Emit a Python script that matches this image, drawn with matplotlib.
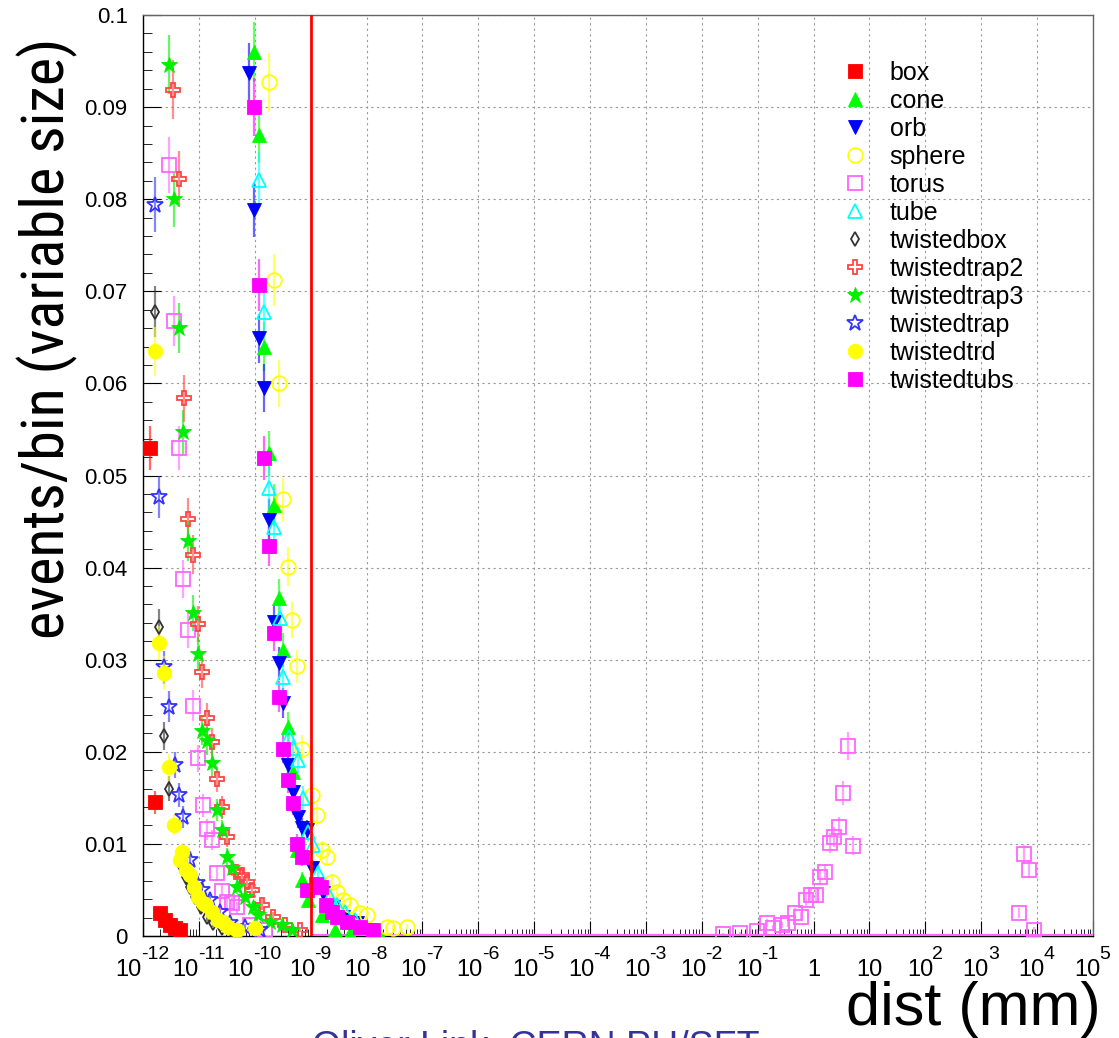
import numpy as np
import matplotlib.pyplot as plt
from matplotlib import font_manager as fm
from matplotlib.font_manager import FontProperties
from matplotlib.transforms import blended_transform_factory
from matplotlib.ticker import FixedLocator, FixedFormatter, LogLocator, NullFormatter, MultipleLocator

SANS = ['Liberation Sans', 'DejaVu Sans']


def narrow_font():
    # look for an installed condensed sans for the y title
    prefs = ['Liberation Sans Narrow', 'Roboto Condensed', 'Noto Sans', 'Open Sans',
             'DejaVu Sans', 'Noto Sans Display']
    found = {}
    for f in fm.fontManager.ttflist:
        cond = ('Narrow' in f.name or 'Condensed' in f.name or 'Cond' in f.fname
                or str(f.stretch) in ('condensed', 'semi-condensed', 'extra-condensed'))
        if not cond or f.style != 'normal':
            continue
        if str(f.weight) not in ('400', 'normal', 'regular', 'book'):
            continue
        if 'Semi' in f.fname or 'Extra' in f.fname or 'Ultra' in f.fname:
            continue
        found.setdefault(f.name, f.fname)
    for p in prefs:
        for name, path in found.items():
            if name.startswith(p):
                return path
    if found:
        return sorted(found.values())[0]
    return None


NARROW_PATH = narrow_font()


def nprop(size):
    if NARROW_PATH:
        return FontProperties(fname=NARROW_PATH, size=size)
    return FontProperties(family='DejaVu Sans', size=size * 0.85)


def sprop(size):
    return FontProperties(family=SANS, size=size)


# data: log10(dist / mm) and events/bin
box_lx = [-11.875, -11.785, -11.696, -11.606, -11.517, -11.428, -11.338]
box_y = [0.0530, 0.0145, 0.0025, 0.0017, 0.0012, 0.0009, 0.0006]

cone_lx = [-10.014, -9.925, -9.835, -9.746, -9.657, -9.567, -9.496, -9.406, -9.317,
           -9.245, -9.156, -9.048, -8.798, -8.565, -8.297, -7.76]
cone_y = [0.0960, 0.0870, 0.0640, 0.0524, 0.0468, 0.0367, 0.0311, 0.0227, 0.0178,
          0.0093, 0.0061, 0.0039, 0.0023, 0.0007, 0.0003, 0.0001]

orb_lx = [-10.104, -10.014, -9.925, -9.835, -9.746, -9.657, -9.567, -9.496, -9.406, -9.317,
          -9.227, -9.156, -9.066, -8.977, -8.887, -8.78, -8.601, -8.422, -8.172, -7.939]
orb_y = [0.0937, 0.0788, 0.0649, 0.0595, 0.0452, 0.0341, 0.0296, 0.0253, 0.0186, 0.0156,
         0.0129, 0.0117, 0.0115, 0.0074, 0.0055, 0.0047, 0.0031, 0.0021, 0.0014, 0.0007]

sphere_lx = [-9.746, -9.657, -9.567, -9.496, -9.406, -9.335, -9.245, -9.156, -8.977, -8.887,
             -8.798, -8.708, -8.619, -8.53, -8.422, -8.297, -8.118, -7.993, -7.635, -7.528, -7.277]
sphere_y = [0.0927, 0.0712, 0.0600, 0.0474, 0.0401, 0.0343, 0.0293, 0.0203, 0.0153, 0.0131,
            0.0093, 0.0086, 0.0059, 0.0048, 0.0039, 0.0034, 0.0025, 0.0023, 0.0010, 0.0009, 0.0010]

torus_lx = [-11.535, -11.445, -11.356, -11.284, -11.195, -11.106, -11.016, -10.927, -10.855,
            -10.766, -10.676, -10.587, -10.497, -10.408, -10.318, -10.086, -9.818,
            -1.624, -1.32, -1.016, -0.837, -0.73, -0.569, -0.462, -0.336, -0.229, -0.14,
            -0.05, 0.039, 0.111, 0.2, 0.29, 0.361, 0.451, 0.522, 0.612, 0.701,
            3.671, 3.76, 3.85, 3.94]
torus_y = [0.0837, 0.0668, 0.0530, 0.0388, 0.0332, 0.0250, 0.0193, 0.0142, 0.0116,
           0.0104, 0.0068, 0.0049, 0.0037, 0.0036, 0.0031, 0.0012, 0.0007,
           0.0002, 0.0003, 0.0005, 0.0014, 0.0009, 0.0012, 0.0014, 0.0025, 0.0021, 0.0039,
           0.0045, 0.0045, 0.0064, 0.0069, 0.0101, 0.0107, 0.0118, 0.0155, 0.0206, 0.0098,
           0.0025, 0.0089, 0.0072, 0.0007]

tube_lx = [-10.014, -9.925, -9.835, -9.746, -9.657, -9.549, -9.496, -9.388, -9.317, -9.227,
           -9.138, -9.048, -8.959, -8.869, -8.78, -8.655, -8.53, -8.386, -8.21]
tube_y = [0.1040, 0.0821, 0.0678, 0.0486, 0.0444, 0.0345, 0.0281, 0.0216, 0.0204, 0.0191,
          0.0150, 0.0113, 0.0099, 0.0068, 0.0055, 0.0042, 0.0034, 0.0026, 0.0017]

twistedbox_lx = [-11.785, -11.714, -11.624, -11.535, -11.32, -11.231, -11.159, -11.07,
                 -10.963, -10.855, -10.75, -10.587, -10.41]
twistedbox_y = [0.0678, 0.0336, 0.0217, 0.0160, 0.0077, 0.0064, 0.0053, 0.0042,
                0.0031, 0.0021, 0.0014, 0.0009, 0.0005]

twistedtrap2_lx = [-11.463, -11.356, -11.267, -11.195, -11.106, -11.016, -10.945, -10.855,
                   -10.766, -10.676, -10.587, -10.497, -10.336, -10.229, -10.14, -10.05,
                   -9.871, -9.674, -9.46, -9.19]
twistedtrap2_y = [0.0919, 0.0822, 0.0584, 0.0453, 0.0414, 0.0339, 0.0287, 0.0237,
                  0.0211, 0.0170, 0.0140, 0.0107, 0.0069, 0.0066, 0.0059, 0.0050,
                  0.0034, 0.0021, 0.0012, 0.0007]

twistedtrap3_lx = [-11.535, -11.445, -11.356, -11.284, -11.195, -11.106, -11.016, -10.945,
                   -10.855, -10.766, -10.676, -10.587, -10.497, -10.408, -10.318, -10.175,
                   -10.032, -9.943, -9.728, -9.513, -9.335]
twistedtrap3_y = [0.0946, 0.0800, 0.0660, 0.0547, 0.0429, 0.0351, 0.0306, 0.0223,
                  0.0212, 0.0188, 0.0137, 0.0115, 0.0086, 0.0074, 0.0053, 0.0042,
                  0.0031, 0.0023, 0.0015, 0.0012, 0.0007]

twistedtrap_lx = [-11.785, -11.714, -11.624, -11.535, -11.428, -11.356, -11.284, -11.159,
                  -11.034, -10.945, -10.801, -10.623, -10.444, -10.175, -9.907]
twistedtrap_y = [0.0794, 0.0477, 0.0292, 0.0249, 0.0186, 0.0153, 0.0129, 0.0083,
                 0.0058, 0.0050, 0.0039, 0.0026, 0.0014, 0.0010, 0.0007]

twistedtrd_lx = [-11.785, -11.714, -11.624, -11.535, -11.445, -11.338, -11.302, -11.231,
                 -11.159, -11.088, -11.016, -10.927, -10.873, -10.766, -10.658, -10.569,
                 -10.479, -10.318, -9.996]
twistedtrd_y = [0.0635, 0.0318, 0.0286, 0.0183, 0.0121, 0.0083, 0.0091, 0.0072,
                0.0066, 0.0053, 0.0042, 0.0036, 0.0034, 0.0026, 0.0017, 0.0015,
                0.0010, 0.0007, 0.0009]

twistedtubs_lx = [-10.014, -9.925, -9.835, -9.746, -9.657, -9.567, -9.496, -9.406, -9.317,
                  -9.245, -9.156, -9.066, -8.905, -8.816, -8.726, -8.619, -8.53, -8.351,
                  -8.118, -7.886]
twistedtubs_y = [0.0900, 0.0707, 0.0519, 0.0423, 0.0329, 0.0260, 0.0203, 0.0169, 0.0144,
                 0.0100, 0.0086, 0.0050, 0.0056, 0.0053, 0.0034, 0.0026, 0.0021, 0.0015,
                 0.0010, 0.0007]

cut_value = 1e-9
xtick_exp = list(range(-12, 6))
ytick_vals = [0, 0.01, 0.02, 0.03, 0.04, 0.05, 0.06, 0.07, 0.08, 0.09, 0.1]
ytick_labels = ['0', '0.01', '0.02', '0.03', '0.04', '0.05', '0.06', '0.07', '0.08', '0.09', '0.1']

series = [
    ('box', box_lx, box_y, 's', '#ff0000', True, 9.5),
    ('cone', cone_lx, cone_y, '^', '#00ff00', True, 10),
    ('orb', orb_lx, orb_y, 'v', '#0000ff', True, 10),
    ('sphere', sphere_lx, sphere_y, 'o', '#ffff00', False, 10.5),
    ('torus', torus_lx, torus_y, 's', '#ff66ff', False, 9.5),
    ('tube', tube_lx, tube_y, '^', '#00ffff', False, 10),
    ('twistedbox', twistedbox_lx, twistedbox_y, 'd', '#333333', False, 7),
    ('twistedtrap2', twistedtrap2_lx, twistedtrap2_y, 'P', '#ff4444', False, 10.5),
    ('twistedtrap3', twistedtrap3_lx, twistedtrap3_y, '*', '#00ee00', True, 12),
    ('twistedtrap', twistedtrap_lx, twistedtrap_y, '*', '#3333ff', False, 12),
    ('twistedtrd', twistedtrd_lx, twistedtrd_y, 'o', '#ffff00', True, 10.5),
    ('twistedtubs', twistedtubs_lx, twistedtubs_y, 's', '#ff00ff', True, 9.5),
]

fig = plt.figure(figsize=(11.19, 10.38), dpi=100)
ax = fig.add_axes([143 / 1119, 1 - 936 / 1038, 950 / 1119, 921 / 1038])
ax.set_xscale('log')
ax.set_xlim(1e-12, 1e5)
ax.set_ylim(0, 0.1)

handles = []
for name, lx, y, mk, col, filled, ms in series:
    x = 10.0 ** np.array(lx)
    y = np.array(y)
    err = 0.0105 * np.sqrt(y)
    ax.errorbar(x, y, yerr=err, fmt='none', ecolor=col, alpha=0.6, elinewidth=1.6, capsize=0, zorder=3)
    h, = ax.plot(x, y, linestyle='none', marker=mk, markersize=ms,
                 markerfacecolor=col if filled else 'none', markeredgecolor=col,
                 markeredgewidth=0.6 if filled else 1.3, label=name, zorder=4)
    handles.append(h)

# empty torus bins along the floor
ax.axhline(0.0001, xmin=0.18, xmax=1, color='#ff66ff', lw=1.6, zorder=3)
ax.axvline(cut_value, color='red', lw=2, zorder=5)

ax.xaxis.set_major_locator(FixedLocator([10.0 ** e for e in xtick_exp]))
ax.xaxis.set_major_formatter(NullFormatter())
ax.xaxis.set_minor_locator(LogLocator(base=10, subs=np.arange(2, 10), numticks=100))
ax.xaxis.set_minor_formatter(NullFormatter())
ax.yaxis.set_major_locator(FixedLocator(ytick_vals))
ax.yaxis.set_major_formatter(FixedFormatter(ytick_labels))
ax.yaxis.set_minor_locator(MultipleLocator(0.002))

ax.tick_params(axis='x', which='major', direction='in', length=11, width=0.8)
ax.tick_params(axis='x', which='minor', direction='in', length=5, width=0.6)
ax.tick_params(axis='y', which='major', direction='in', length=13, width=0.8, pad=11,
               labelsize=16, labelfontfamily=SANS)
ax.tick_params(axis='y', which='minor', direction='in', length=6.5, width=0.6)
ax.tick_params(top=False, right=False, which='both')

# ROOT style decade labels: "10" with a raised exponent, centred as a whole
renderer = fig.canvas.get_renderer()


def text_width(s, prop):
    t = fig.text(0, 0, s, fontproperties=prop)
    w = t.get_window_extent(renderer).width
    t.remove()
    return w


tr = blended_transform_factory(ax.transData, ax.transAxes)
base_p, sup_p = sprop(17), sprop(14)
for e in xtick_exp:
    xv = 10.0 ** e
    if e in (0, 1):
        ax.annotate(str(10 ** e), xy=(xv, 0), xycoords=tr, xytext=(0, -40),
                    textcoords='offset pixels', ha='center', va='baseline',
                    fontproperties=base_p, annotation_clip=False)
        continue
    wb = text_width('10', base_p)
    ws = text_width(str(e), sup_p)
    left = -(wb + ws) / 2
    ax.annotate('10', xy=(xv, 0), xycoords=tr, xytext=(left, -40),
                textcoords='offset pixels', ha='left', va='baseline',
                fontproperties=base_p, annotation_clip=False)
    ax.annotate(str(e), xy=(xv, 0), xycoords=tr, xytext=(left + wb - 1, -23),
                textcoords='offset pixels', ha='left', va='baseline',
                fontproperties=sup_p, annotation_clip=False)

ax.grid(True, which='major', color='#999999', linestyle=(0, (2, 3)), linewidth=0.8)
ax.set_axisbelow(True)
for s in ax.spines.values():
    s.set_linewidth(1.0)
for s in ('top', 'right'):
    ax.spines[s].set_color('#666666')

fig.text(47 / 1119, 1 - 38 / 1038, 'events/bin (variable size)', rotation=90,
         ha='center', va='top', fontproperties=nprop(43.5))
fig.text(1101 / 1119, 1 - 1025 / 1038, 'dist (mm)', ha='right', va='baseline',
         fontproperties=sprop(44))
fig.text(312 / 1119, (1038 - 1058) / 1038, 'Oliver Link, CERN PH/SFT', ha='left',
         va='baseline', fontsize=27, family=SANS, color='#333399')

ax.legend(handles=handles, loc='upper left', bbox_to_anchor=(846 / 1119, 1 - 61 / 1038),
          bbox_transform=fig.transFigure, frameon=False, prop={'family': SANS, 'size': 18},
          handlelength=0.75, handletextpad=1.0, labelspacing=0.16, borderpad=0,
          borderaxespad=0, numpoints=1)

fig.savefig('out.png', dpi=100)
